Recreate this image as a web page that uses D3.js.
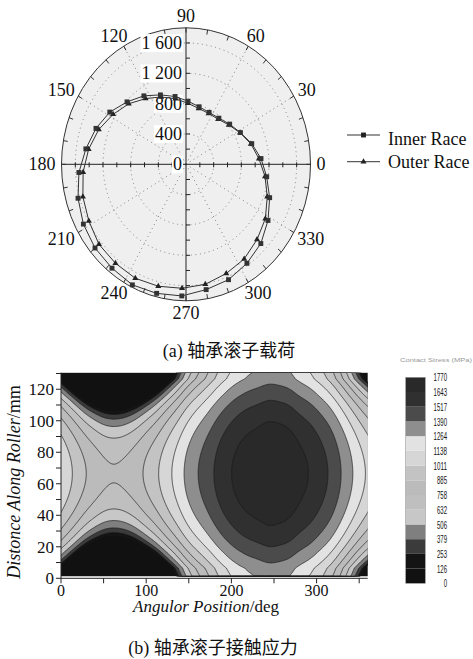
<!DOCTYPE html>
<html>
<head>
<meta charset="utf-8">
<script src="https://cdn.jsdelivr.net/npm/d3@7"></script>
<style>
  body { margin: 0; background: #fff; }
  svg { display: block; }
  text { font-family: "Liberation Serif", "Times New Roman", serif; fill: #111; }
  .cjk { font-family: "Liberation Serif", "Noto Sans CJK SC", serif; }
</style>
</head>
<body>
<svg id="fig" width="473" height="659"></svg>
<script>
// ---------- (a) roller load distribution ----------
const rollerAngles = [4, 16, 28, 40, 52, 64, 76, 88, 100, 112, 124, 136, 148, 160, 172,
                      184, 196, 208, 220, 232, 244, 256, 268, 280, 292, 304, 316, 328, 340, 352];
const innerRaceLoad = [1087, 989, 891, 824, 772, 762, 782, 833, 908, 987, 1089, 1185, 1299, 1385, 1462,
                       1552, 1624, 1680, 1717, 1738, 1769, 1754, 1737, 1678, 1641, 1575, 1504, 1398, 1287, 1178];
const outerRaceLoad = [1057, 976, 885, 808, 755, 746, 760, 804, 878, 958, 1045, 1150, 1243, 1342, 1422,
                       1491, 1551, 1591, 1642, 1656, 1672, 1657, 1636, 1607, 1553, 1505, 1428, 1353, 1250, 1154];
const radialTickLabels = [0, 400, 800, 1200, 1600];
const radialMinorTicks = [200, 400, 600, 800, 1000, 1200, 1400, 1600];
const angleLabels = [0, 30, 60, 90, 120, 150, 180, 210, 240, 270, 300, 330];
const seriesNames = ["Inner Race", "Outer Race"];

// ---------- (b) roller contact stress ----------
const stressLevels = [0, 126, 253, 379, 506, 632, 758, 885, 1011, 1138, 1264, 1390, 1517, 1643, 1770];
const stressGrays = ["#111111", "#141414", "#3b3b3b", "#7f7f7f", "#c7c7c7", "#bfbfbf", "#bbbbbb",
                     "#c3c3c3", "#d6d6d6", "#e2e2e2", "#8e8e8e", "#4b4b4b", "#303030", "#292929"];
// distance from roller centre (mm) and the load at which that slice comes into contact
const rollerOffset = [0, 10, 20, 30, 40, 50, 60, 65];
const contactOnsetLoad = [0, 193, 386, 579, 772, 965, 1140, 1180];
const rollerCentre = 66.5;
const rollerEnds = [1.5, 130.5];
const angleTicks = [0, 100, 200, 300];
const angleMinorTicks = [0, 50, 100, 150, 200, 250, 300, 350];
const positionTicks = [0, 20, 40, 60, 80, 100, 120];
const positionMinorTicks = [0, 10, 20, 30, 40, 50, 60, 70, 80, 90, 100, 110, 120, 130];

const svg = d3.select("#fig");

// ================= polar panel =================
const cx = 186, cy = 164.3, RX = 124.5, RY = 136.5, RMAX = 1800;
const rx = d3.scaleLinear().domain([0, RMAX]).range([0, RX]);
const ry = d3.scaleLinear().domain([0, RMAX]).range([0, RY]);
const rad = d => d * Math.PI / 180;
const pt = (deg, r) => [cx + rx(r) * Math.cos(rad(deg)), cy - ry(r) * Math.sin(rad(deg))];

const polar = svg.append("g");
polar.append("ellipse").attr("cx", cx).attr("cy", cy).attr("rx", RX).attr("ry", RY)
  .attr("fill", "#efefef").attr("stroke", "none");

// dotted grid rings and spokes
polar.selectAll(".ring").data(radialTickLabels.filter(v => v > 0)).join("ellipse")
  .attr("cx", cx).attr("cy", cy).attr("rx", d => rx(d)).attr("ry", d => ry(d))
  .attr("fill", "none").attr("stroke", "#777").attr("stroke-width", 0.9).attr("stroke-dasharray", "1,3.5");
polar.selectAll(".spoke").data(angleLabels.filter(a => a % 90 !== 0)).join("line")
  .attr("x1", cx).attr("y1", cy)
  .attr("x2", d => pt(d, RMAX)[0]).attr("y2", d => pt(d, RMAX)[1])
  .attr("stroke", "#777").attr("stroke-width", 0.9).attr("stroke-dasharray", "1,3.5");

// outer rim and axes
polar.append("ellipse").attr("cx", cx).attr("cy", cy).attr("rx", RX).attr("ry", RY)
  .attr("fill", "none").attr("stroke", "#333").attr("stroke-width", 1);
polar.append("line").attr("x1", cx - RX).attr("x2", cx + RX).attr("y1", cy).attr("y2", cy)
  .attr("stroke", "#222").attr("stroke-width", 1);
polar.append("line").attr("x1", cx).attr("x2", cx).attr("y1", cy - RY).attr("y2", cy + RY)
  .attr("stroke", "#222").attr("stroke-width", 1);

// rim ticks every 10 degrees
const rimTicks = d3.range(0, 360, 10);
polar.selectAll(".rimtick").data(rimTicks).join("line")
  .attr("x1", d => pt(d, RMAX)[0]).attr("y1", d => pt(d, RMAX)[1])
  .attr("x2", d => pt(d, RMAX * 0.965)[0]).attr("y2", d => pt(d, RMAX * 0.965)[1])
  .attr("stroke", "#333").attr("stroke-width", 1);

// radial ticks on the axes
radialMinorTicks.forEach(v => {
  [-1, 1].forEach(s => {
    polar.append("line").attr("x1", cx + s * rx(v)).attr("x2", cx + s * rx(v))
      .attr("y1", cy - 2).attr("y2", cy + 3).attr("stroke", "#222");
    polar.append("line").attr("x1", cx).attr("x2", cx + 4)
      .attr("y1", cy + s * ry(v)).attr("y2", cy + s * ry(v)).attr("stroke", "#222");
  });
});

// radial labels with white boxes
const fmtLoad = v => v >= 1000 ? String(v).replace(/^(\d)(\d{3})$/, "$1 $2") : String(v);
radialTickLabels.forEach(v => {
  const g = polar.append("g");
  const t = g.append("text").attr("x", cx - 4).attr("y", cy - ry(v)).attr("dy", "0.34em")
    .attr("text-anchor", "end").attr("font-size", 18).text(fmtLoad(v));
  const b = t.node().getBBox();
  g.insert("rect", "text").attr("x", b.x - 1).attr("y", b.y + 1).attr("width", b.width + 2)
    .attr("height", b.height - 2).attr("fill", "#fff");
});

// angle labels outside the rim
angleLabels.forEach(a => {
  const t = polar.append("text").attr("font-size", 18).attr("text-anchor", "middle")
    .attr("dy", "0.34em").text(a);
  const w = t.node().getBBox().width;
  const [ex, ey] = pt(a, RMAX);
  const c = Math.cos(rad(a)), s = Math.sin(rad(a));
  t.attr("x", ex + 6 * c + (w / 2) * c).attr("y", ey - 6 * s - 6 * s);
});

// series
const lineGen = d3.line().curve(d3.curveLinearClosed);
const innerPts = rollerAngles.map((a, i) => pt(a, innerRaceLoad[i]));
const outerPts = rollerAngles.map((a, i) => pt(a, outerRaceLoad[i]));
polar.append("path").attr("d", lineGen(outerPts)).attr("fill", "none").attr("stroke", "#333").attr("stroke-width", 1);
polar.append("path").attr("d", lineGen(innerPts)).attr("fill", "none").attr("stroke", "#333").attr("stroke-width", 1);
const square = d3.symbol().type(d3.symbolSquare).size(24);
const triangle = d3.symbol().type(d3.symbolTriangle).size(16);
polar.selectAll(".tri").data(outerPts).join("path").attr("d", triangle)
  .attr("transform", d => `translate(${d[0]},${d[1]})`).attr("fill", "#222");
polar.selectAll(".sq").data(innerPts).join("path").attr("d", square)
  .attr("transform", d => `translate(${d[0]},${d[1]})`).attr("fill", "#333");

// legend
const legend = svg.append("g");
[[135, square, seriesNames[0], 145], [161.7, triangle, seriesNames[1], 167.5]].forEach(([y, sym, name, base]) => {
  legend.append("line").attr("x1", 347).attr("x2", 380).attr("y1", y).attr("y2", y).attr("stroke", "#333");
  legend.append("path").attr("d", sym).attr("transform", `translate(363.5,${y})`).attr("fill", "#222");
  legend.append("text").attr("x", 388).attr("y", base).attr("font-size", 18).text(name);
});

svg.append("text").attr("class", "cjk").attr("x", 229).attr("y", 357).attr("text-anchor", "middle")
  .attr("font-size", 18).text("(a) 轴承滚子载荷");

// ================= contour panel =================
const X0 = 61, X1 = 367.7, Y0 = 578.3, Y1 = 372.7;
const xS = d3.scaleLinear().domain([0, 360]).range([X0, X1]);
const yS = d3.scaleLinear().domain([0, 130.5]).range([Y0, Y1]);

const loadAt = d3.interpolateBasisClosed(innerRaceLoad);
const onset = d3.scaleLinear().domain(rollerOffset).range(contactOnsetLoad);
const th0 = -4, dth = 1, nx = 369;
const z0 = rollerEnds[0], dz = 0.5, ny = Math.round((rollerEnds[1] - rollerEnds[0]) / dz) + 1;
const field = new Float64Array(nx * ny);
for (let j = 0; j < ny; j++) {
  const z = z0 + j * dz;
  const lc = onset(Math.abs(z - rollerCentre));
  for (let i = 0; i < nx; i++) {
    const th = th0 + i * dth;
    const L = loadAt((th - rollerAngles[0]) / 360);
    field[j * nx + i] = Math.sqrt(Math.max(0, L * L - lc * lc));
  }
}
const contours = d3.contours().size([nx, ny]).thresholds(stressLevels.slice(0, 14))(field);
const proj = d3.geoTransform({
  point(x, y) { this.stream.point(xS(th0 + (x - 0.5) * dth), yS(z0 + (y - 0.5) * dz)); }
});
const cpath = d3.geoPath(proj);

svg.append("clipPath").attr("id", "plotclip").append("rect")
  .attr("x", X0).attr("y", Y1).attr("width", X1 - X0).attr("height", Y0 - Y1);
const cp = svg.append("g").attr("clip-path", "url(#plotclip)");
cp.selectAll(".band").data(contours).join("path").attr("d", cpath)
  .attr("fill", (d, i) => stressGrays[i]).attr("stroke", "none");
cp.selectAll(".iso").data(contours.slice(1)).join("path").attr("d", cpath)
  .attr("fill", "none").attr("stroke", "#1c1c1c").attr("stroke-width", 0.7);

// axes
const ax = svg.append("g").attr("stroke", "#222");
ax.append("line").attr("x1", X0).attr("x2", X1).attr("y1", Y0).attr("y2", Y0);
ax.append("line").attr("x1", X0).attr("x2", X0).attr("y1", Y0).attr("y2", Y1);
ax.selectAll(".xt").data(angleMinorTicks).join("line")
  .attr("x1", d => xS(d)).attr("x2", d => xS(d)).attr("y1", Y0).attr("y2", Y0 + 5);
ax.selectAll(".yt").data(positionMinorTicks).join("line")
  .attr("x1", X0 - 5).attr("x2", X0).attr("y1", d => yS(d)).attr("y2", d => yS(d));
svg.selectAll(".xl").data(angleTicks).join("text")
  .attr("x", d => xS(d)).attr("y", 595.5).attr("text-anchor", "middle").attr("font-size", 16).text(d => d);
svg.selectAll(".yl").data(positionTicks).join("text")
  .attr("x", 54).attr("y", d => yS(d)).attr("dy", "0.34em").attr("text-anchor", "end")
  .attr("font-size", 17).text(d => d);

const xt = svg.append("text").attr("x", 206).attr("y", 612).attr("text-anchor", "middle").attr("font-size", 17);
xt.append("tspan").attr("font-style", "italic").text("Angulor Position");
xt.append("tspan").text("/deg");
const yt = svg.append("text").attr("transform", "translate(20,482) rotate(-90)")
  .attr("text-anchor", "middle").attr("font-size", 18);
yt.append("tspan").attr("font-style", "italic").text("Distonce Along Roller");
yt.append("tspan").text("/mm");

svg.append("text").attr("class", "cjk").attr("x", 213).attr("y", 654).attr("text-anchor", "middle")
  .attr("font-size", 18).text("(b) 轴承滚子接触应力");

// colour bar
const cbX = 405.7, cbW = 19.6, cbTop = 377.3, cbBot = 583.3;
const cbY = d3.scaleLinear().domain([0, 13 + 1]).range([cbBot, cbTop]);
const cb = svg.append("g");
cb.selectAll("rect").data(stressGrays).join("rect")
  .attr("x", cbX).attr("width", cbW)
  .attr("y", (d, i) => cbY(i + 1)).attr("height", (d, i) => cbY(i) - cbY(i + 1))
  .attr("fill", d => d);
cb.append("rect").attr("x", cbX).attr("y", cbTop).attr("width", cbW).attr("height", cbBot - cbTop)
  .attr("fill", "none").attr("stroke", "#999").attr("stroke-width", 0.6);
cb.selectAll("text").data(stressLevels).join("text")
  .attr("x", 447).attr("y", (d, i) => cbY(i)).attr("dy", "0.36em").attr("text-anchor", "end")
  .style("font-family", "'Liberation Sans Narrow', 'Liberation Sans', sans-serif")
  .attr("font-size", 11.5)
  .attr("textLength", d => String(d).length * 3.35).attr("lengthAdjust", "spacingAndGlyphs")
  .text(d => d);
svg.append("text").attr("x", 400).attr("y", 362).attr("font-size", 5.5)
  .style("font-family", "'Liberation Sans', sans-serif").style("fill", "#999")
  .attr("textLength", 72).attr("lengthAdjust", "spacingAndGlyphs")
  .text("Contact Stress (MPa)");
</script>
</body>
</html>
